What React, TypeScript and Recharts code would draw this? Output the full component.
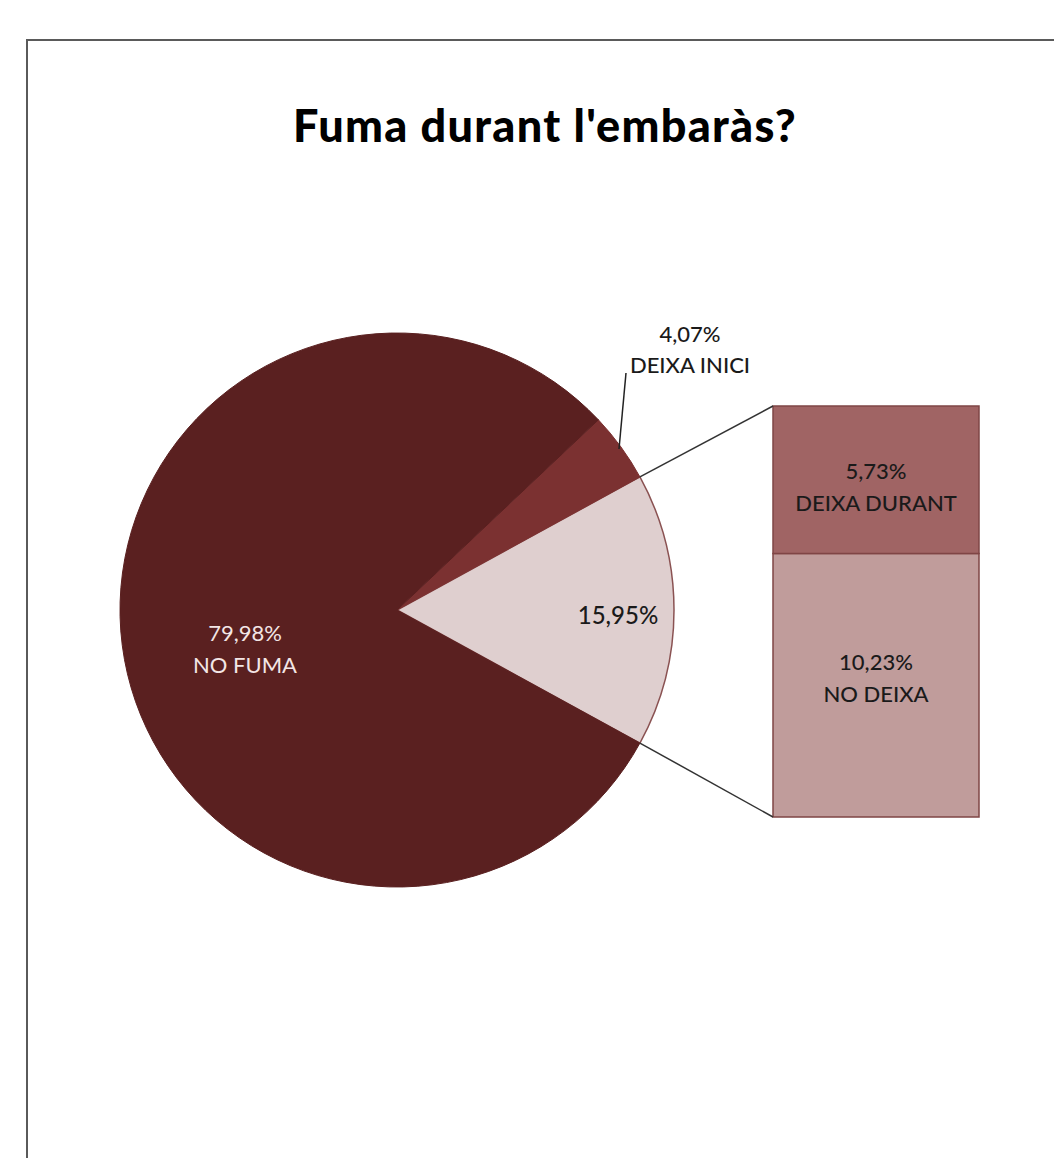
import React from 'react';
import { PieChart, Pie, Cell, BarChart, Bar, XAxis, YAxis, LabelList } from 'recharts';

const TITLE = "Fuma durant l'embaràs?";

const pieNames = ['', 'DEIXA INICI', 'NO FUMA'];
const pieValues = [15.95, 4.07, 79.98];
const pieLabels = ['15,95%', '4,07%', '79,98%'];
const pieColors = ['#dfcfcf', '#7b3131', '#5a2020'];
const pieStrokes = ['#8a5252', '#7b3131', '#5a2020'];

const barNames = ['NO DEIXA', 'DEIXA DURANT'];
const barValues = [10.23, 5.73];
const barLabels = ['10,23%', '5,73%'];
const barColors = ['#c09c9b', '#a06464'];

const FONT = 'Lato, "Open Sans", sans-serif';

const W = 1054;
const H = 1158;
const CX = 397;
const CY = 610;
const R = 277;
const BX = 773;
const BY = 406;
const BW = 206;
const BH = 411;

const pieData = pieNames.map((n, i) => ({ name: n, value: pieValues[i], label: pieLabels[i] }));
const pieTotal = pieValues.reduce((a, b) => a + b, 0);
const startAngle = -(pieValues[0] / pieTotal) * 360 / 2;
const endAngle = startAngle + 360;

const barData = [{ name: 'x', a: barValues[0], b: barValues[1] }];
const barTotal = barValues.reduce((a, b) => a + b, 0);

const RAD = Math.PI / 180;

const renderPieLabel = (props: any) => {
  const { cx, cy, midAngle, outerRadius, index } = props;
  const d = pieData[index];
  if (index === 0) {
    const x = cx + outerRadius * 0.798 * Math.cos(-midAngle * RAD);
    const y = cy + 14;
    return (
      <text x={x} y={y} textAnchor="middle" fill="#1a1a1a" fontFamily={FONT} fontSize={24} fontWeight={500}>
        {d.label}
      </text>
    );
  }
  if (index === 1) {
    const px = cx + outerRadius * Math.cos(-midAngle * RAD);
    const py = cy + outerRadius * Math.sin(-midAngle * RAD);
    const ex = px + 5;
    const ey = py - 74;
    return (
      <g>
        <line x1={px - 2} y1={py + 2} x2={ex} y2={ey} stroke="#222" strokeWidth={1.5} />
        <text x={ex + 64} y={ey - 31} textAnchor="middle" fill="#1a1a1a" fontFamily={FONT} fontSize={22} fontWeight={500}>
          {d.label}
        </text>
        <text x={ex + 64} y={ey} textAnchor="middle" fill="#1a1a1a" fontFamily={FONT} fontSize={22} fontWeight={500}>
          {d.name}
        </text>
      </g>
    );
  }
  const x = cx - 152;
  return (
    <g>
      <text x={x} y={cy + 31} textAnchor="middle" fill="#f3e6e6" fontFamily={FONT} fontSize={22}>
        {d.label}
      </text>
      <text x={x} y={cy + 63} textAnchor="middle" fill="#f3e6e6" fontFamily={FONT} fontSize={22}>
        {d.name}
      </text>
    </g>
  );
};

const makeBarLabel = (pct: string, name: string, dy: number) => (props: any) => {
  const { x, y, width, height } = props;
  const mx = Number(x) + Number(width) / 2;
  const my = Number(y) + Number(height) / 2 + dy;
  return (
    <g>
      <text x={mx} y={my - 9} textAnchor="middle" fill="#1a1a1a" fontFamily={FONT} fontSize={22} fontWeight={500}>
        {pct}
      </text>
      <text x={mx} y={my + 23} textAnchor="middle" fill="#1a1a1a" fontFamily={FONT} fontSize={22} fontWeight={500}>
        {name}
      </text>
    </g>
  );
};

export default function App() {
  const half = (pieValues[0] / pieTotal) * 180 * RAD;
  const p1x = CX + R * Math.cos(half);
  const p1y = CY - R * Math.sin(half);
  const p2y = CY + R * Math.sin(half);
  return (
    <div style={{ position: 'absolute', left: 0, top: 0, width: W, height: H, overflow: 'hidden', background: '#fff' }}>
      <div
        style={{
          position: 'absolute',
          left: 26,
          top: 39,
          width: W + 100,
          height: H + 100,
          borderTop: '2px solid #5a5a5a',
          borderLeft: '2px solid #5a5a5a',
        }}
      />
      <div style={{ position: 'absolute', left: 0, top: 0 }}>
        <PieChart width={W} height={H} margin={{ top: 0, right: 0, bottom: 0, left: 0 }}>
          <Pie
            data={pieData}
            dataKey="value"
            nameKey="name"
            cx={CX}
            cy={CY}
            outerRadius={R}
            startAngle={startAngle}
            endAngle={endAngle}
            isAnimationActive={false}
            label={renderPieLabel}
            labelLine={false}
          >
            {pieData.map((d, i) => (
              <Cell key={i} fill={pieColors[i]} stroke={pieStrokes[i]} strokeWidth={i === 0 ? 1.5 : 1} />
            ))}
          </Pie>
        </PieChart>
      </div>
      <div style={{ position: 'absolute', left: BX - 1, top: BY - 1 }}>
        <BarChart
          width={BW + 2}
          height={BH + 2}
          data={barData}
          margin={{ top: 1, right: 1, bottom: 1, left: 1 }}
          barCategoryGap={0}
        >
          <XAxis dataKey="name" hide />
          <YAxis hide domain={[0, barTotal]} />
          <Bar dataKey="a" stackId="s" fill={barColors[0]} stroke="#7f4545" strokeWidth={1.5} isAnimationActive={false}>
            <LabelList content={makeBarLabel(barLabels[0], barNames[0], -6)} />
          </Bar>
          <Bar dataKey="b" stackId="s" fill={barColors[1]} stroke="#7f4545" strokeWidth={1.5} isAnimationActive={false}>
            <LabelList content={makeBarLabel(barLabels[1], barNames[1], 8)} />
          </Bar>
        </BarChart>
      </div>
      <svg width={W} height={H} style={{ position: 'absolute', left: 0, top: 0, pointerEvents: 'none' }}>
        <text x={545} y={142} textAnchor="middle" fontFamily={FONT} fontWeight={900} fontSize={45} letterSpacing={1.3} fill="#000">
          {TITLE}
        </text>
        <line x1={p1x} y1={p1y} x2={BX} y2={BY} stroke="#333" strokeWidth={1.5} />
        <line x1={p1x} y1={p2y} x2={BX} y2={BY + BH} stroke="#333" strokeWidth={1.5} />
      </svg>
    </div>
  );
}
